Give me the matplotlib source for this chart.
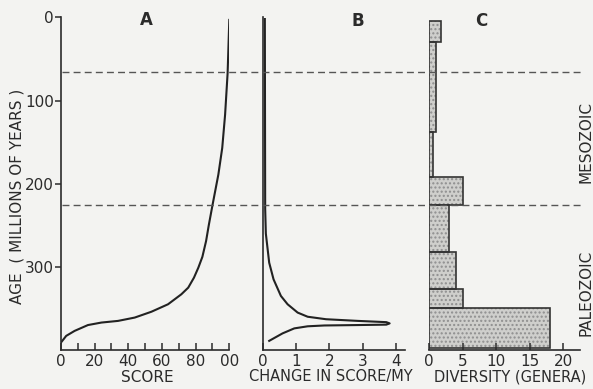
import matplotlib
matplotlib.use("Agg")
import matplotlib.pyplot as plt
from matplotlib.lines import Line2D
from matplotlib.transforms import blended_transform_factory

# A: cumulative score vs age (My)
age_a = [3, 67, 117, 157, 189, 227, 250, 269, 288, 301, 313, 325, 333, 345, 354,
         361, 365, 367, 370, 377, 383, 391]
score_a = [100, 99, 97.5, 95.8, 93.5, 89.9, 87.8, 86.2, 84, 81.6, 79, 75.6, 71.5, 63.6, 53.7,
           43.8, 33.9, 24, 16, 8.1, 3.1, 0]

# B: change in score per My
age_b = [2, 230, 260, 295, 315, 335, 345, 355, 360, 363, 365, 366.5, 368,
         369.5, 370, 370.5, 371.5, 374, 380, 389]
rate_b = [0.07, 0.08, 0.1, 0.2, 0.33, 0.55, 0.75, 1.05, 1.35, 1.9, 2.85, 3.7, 3.8,
          3.7, 2.85, 1.85, 1.35, 0.95, 0.6, 0.2]

# C: diversity (genera) per interval
age_edges = [4, 29, 138, 192, 226, 282, 327, 349, 397]
genera = [1.7, 1.0, 0.6, 5, 3, 4, 5, 18]

boundaries = [66, 226]

W, H = 593, 389
bg = "#f3f3f1"
ink = "#2b2b2b"
plt.rcParams["font.family"] = "DejaVu Sans"

fig = plt.figure(figsize=(W / 100, H / 100), dpi=100, facecolor=bg)

top_px, bot_px = 17.4, 350.0
def make_ax(x0, x1):
    ax = fig.add_axes([x0 / W, (H - bot_px) / H, (x1 - x0) / W, (bot_px - top_px) / H])
    ax.set_facecolor("none")
    ax.set_ylim(400, 0)
    for s in ["top", "right"]:
        ax.spines[s].set_visible(False)
    for s in ["left", "bottom"]:
        ax.spines[s].set_color(ink)
        ax.spines[s].set_linewidth(1.2)
    ax.tick_params(axis="x", direction="in", length=5, width=1.1, color=ink,
                   labelsize=11, labelcolor=ink, pad=3)
    return ax

# panel A
axA = make_ax(61, 229.3)
axA.set_xlim(0, 100)
axA.plot(score_a, age_a, color="#222222", lw=1.5)
axA.set_xticks(range(0, 101, 10))
axA.set_xticklabels(["0", "", "20", "", "40", "", "60", "", "80", "", "00"])
axA.set_yticks([0, 100, 200, 300])
axA.set_yticklabels(["0", "100", "200", "300"])
axA.tick_params(axis="y", direction="out", length=4, width=1.1, color=ink,
                labelsize=11, labelcolor=ink, pad=1)

# panel B
axB = make_ax(262.5, 404.7)
axB.set_xlim(0, 4.25)
axB.plot(rate_b, age_b, color="#222222", lw=1.5)
axB.set_xticks([0, 1, 2, 3, 4])
axB.set_yticks([])

# panel C
axC = make_ax(429.3, 580)
axC.set_xlim(0, 22.5)
axC.spines["left"].set_visible(False)
bottoms = age_edges[:-1]
heights = [b - a for a, b in zip(age_edges[:-1], age_edges[1:])]
axC.barh(bottoms, genera, height=heights, align="edge", color="#cfcfcc",
         hatch="....", edgecolor="#8f8f8f", linewidth=0)
axC.barh(bottoms, genera, height=heights, align="edge", color="none",
         edgecolor="#333333", linewidth=1.2)
axC.set_xticks([0, 5, 10, 15, 20])
axC.set_yticks([])

# era boundaries across all panels
tr = blended_transform_factory(fig.transFigure, axA.transData)
for b in boundaries:
    fig.add_artist(Line2D([62 / W, 583 / W], [b, b], transform=tr, color="#555555",
                          lw=1.0, dashes=(5, 3)))

def ftext(x, y, s, **kw):
    fig.text(x / W, 1 - y / H, s, color=ink, ha="center", va="center", **kw)

ftext(146, 20, "A", fontsize=12, fontweight="bold")
ftext(358, 21, "B", fontsize=12, fontweight="bold")
ftext(481, 21, "C", fontsize=12, fontweight="bold")
ftext(147, 377, "SCORE", fontsize=11)
ftext(331, 377, "CHANGE IN SCORE/MY", fontsize=10.5)
ftext(510, 377, "DIVERSITY (GENERA)", fontsize=10.5)
ftext(17, 196, "AGE  ( MILLIONS OF YEARS )", fontsize=11, rotation=90)
ftext(586, 142, "MESOZOIC", fontsize=11, rotation=90)
ftext(586, 293, "PALEOZOIC", fontsize=11, rotation=90)

fig.savefig("out.png", dpi=100, facecolor=bg)
